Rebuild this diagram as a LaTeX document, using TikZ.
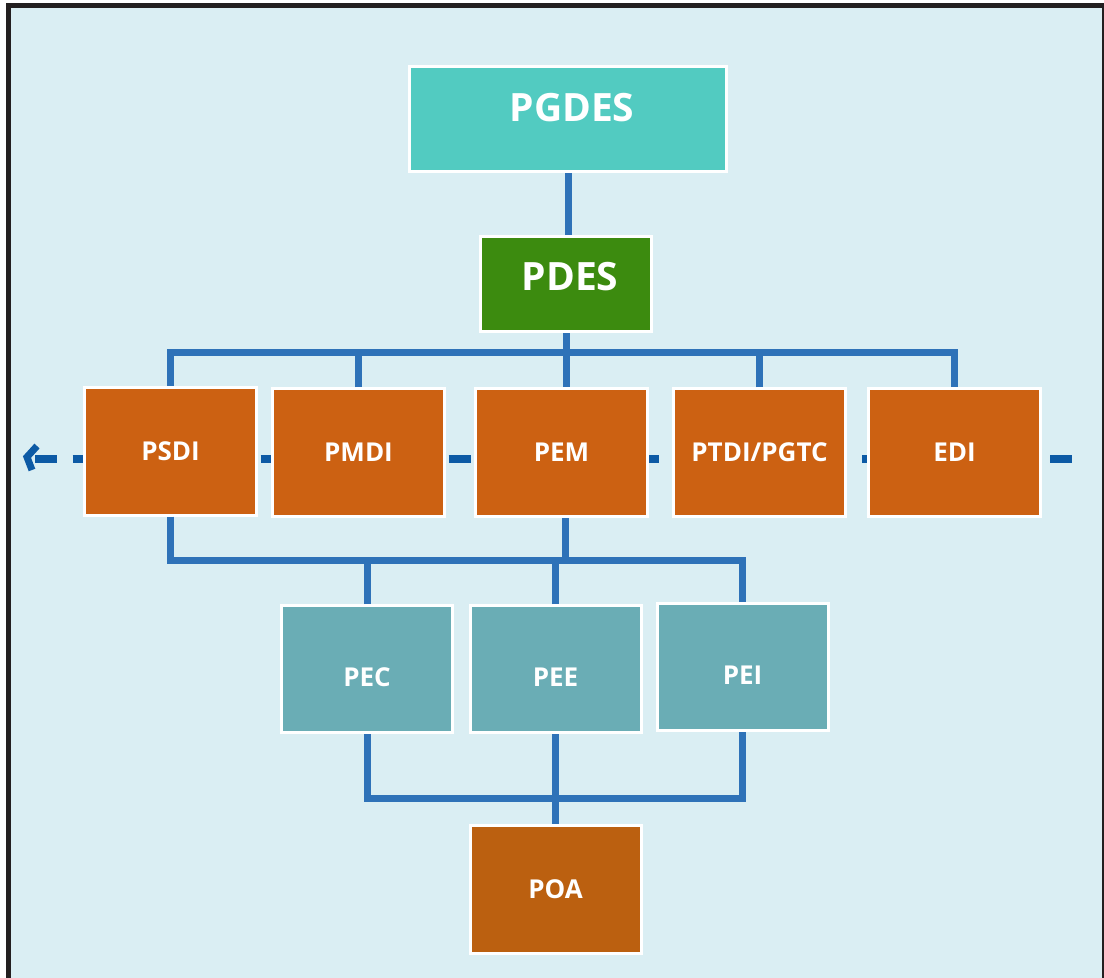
\documentclass[tikz,border=0pt]{standalone}
\usepackage{fontspec}
\setmainfont{Open Sans}
\usepackage{tikz}
\usetikzlibrary{arrows,shapes,positioning}
\definecolor{bgblue}{RGB}{218,238,243}
\definecolor{framegray}{RGB}{35,31,32}
\definecolor{wireblue}{RGB}{46,114,184}
\definecolor{dashblue}{RGB}{12,90,165}
\definecolor{tealtop}{RGB}{82,203,193}
\definecolor{greenbox}{RGB}{60,139,15}
\definecolor{orangebox}{RGB}{204,97,18}
\definecolor{orangedark}{RGB}{187,96,16}
\definecolor{tealbox}{RGB}{106,173,181}

\begin{document}
\begin{tikzpicture}[x=1pt,y=1pt]
                    \tikzstyle{every node}+=[inner sep=0pt, text=white]
                    \tikzstyle{box}=[draw=white, line width=3pt, minimum width=172pt, minimum height=128pt, fill=orangebox, font=\bfseries\fontsize{26}{26}\selectfont, text height=18.6pt, text depth=0pt]
                    \tikzstyle{subbox}=[box, minimum width=171pt, minimum height=127pt, fill=tealbox, text height=35pt]
                    \tikzstyle{bigbox}=[draw=white, line width=3pt, font=\bfseries\fontsize{39}{39}\selectfont]
                    \tikzstyle{wire}=[draw=wireblue, line width=7pt]
                    \tikzstyle{dashline}=[draw=dashblue, line width=8pt, dash pattern=on 22pt off 15.6pt]
                    \tikzstyle{chev}=[draw=dashblue, line width=7pt, miter limit=4]
                    \useasboundingbox (0,0) rectangle (1104,-978);
                    \draw [framegray, line width=5pt, fill=bgblue] (8.5,-5.5) rectangle (1104.2,-995);
                    \coordinate (dashL) at (35,-459);
                    \coordinate (dashR) at (1073,-459);
                    \draw [dashline] (dashL) -- (dashR);
                    \draw [chev] ([shift={(2,13)}]dashL) -- ([shift={(-8,2)}]dashL) -- ([shift={(-3,-11)}]dashL);
                    \node [bigbox, fill=tealtop, minimum width=317pt, minimum height=105pt, text height=27.8pt, text depth=22pt] (pgdes) at (568,-119) {\hspace{8pt}PGDES};
                    \node [bigbox, fill=greenbox, minimum width=171pt, minimum height=95pt, text height=27.8pt, text depth=14pt] (pdes) at (566,-284) {\hspace{8pt}PDES};
                    \node [box] (psdi) at (170.5,-451) {PSDI};
                    \node [box] (pmdi) at (358.5,-452.5) {PMDI};
                    \node [box] (pem) at (561.5,-452.5) {PEM};
                    \node [box] (ptdi) at (759.5,-452.5) {PTDI/PGTC};
                    \node [box] (edi) at (954.5,-452) {EDI};
                    \node [subbox] (pec) at (367,-669) {PEC};
                    \node [subbox] (pee) at (555.5,-669) {PEE};
                    \node [subbox] (pei) at (742.5,-667) {PEI};
                    \node [box, minimum width=171pt, fill=orangedark] (poa) at (555.5,-889.5) {POA};
                    \coordinate (topbus) at (566,-352.5);
                    \coordinate (midbus) at (565,-560);
                    \coordinate (lowbus) at (555.5,-798);
                    \draw [wire] (pgdes.south) -- (pgdes.south |- pdes.north);
                    \draw [wire] (pdes.south) -- (pdes.south |- pem.north);
                    \draw [wire] (psdi.north) |- (topbus) -| (edi.north);
                    \draw [wire] (pmdi.north) -- (pmdi.north |- topbus);
                    \draw [wire] (ptdi.north) -- (ptdi.north |- topbus);
                    \draw [wire] (psdi.south) |- (midbus) -| (pei.north);
                    \draw [wire] (pem.south -| midbus) -- (midbus);
                    \draw [wire] (pec.north) -- (pec.north |- midbus);
                    \draw [wire] (pee.north) -- (pee.north |- midbus);
                    \draw [wire] (pec.south) |- (lowbus) -| (pei.south);
                    \draw [wire] (pee.south) -- (poa.north);
                \end{tikzpicture}
\end{document}
